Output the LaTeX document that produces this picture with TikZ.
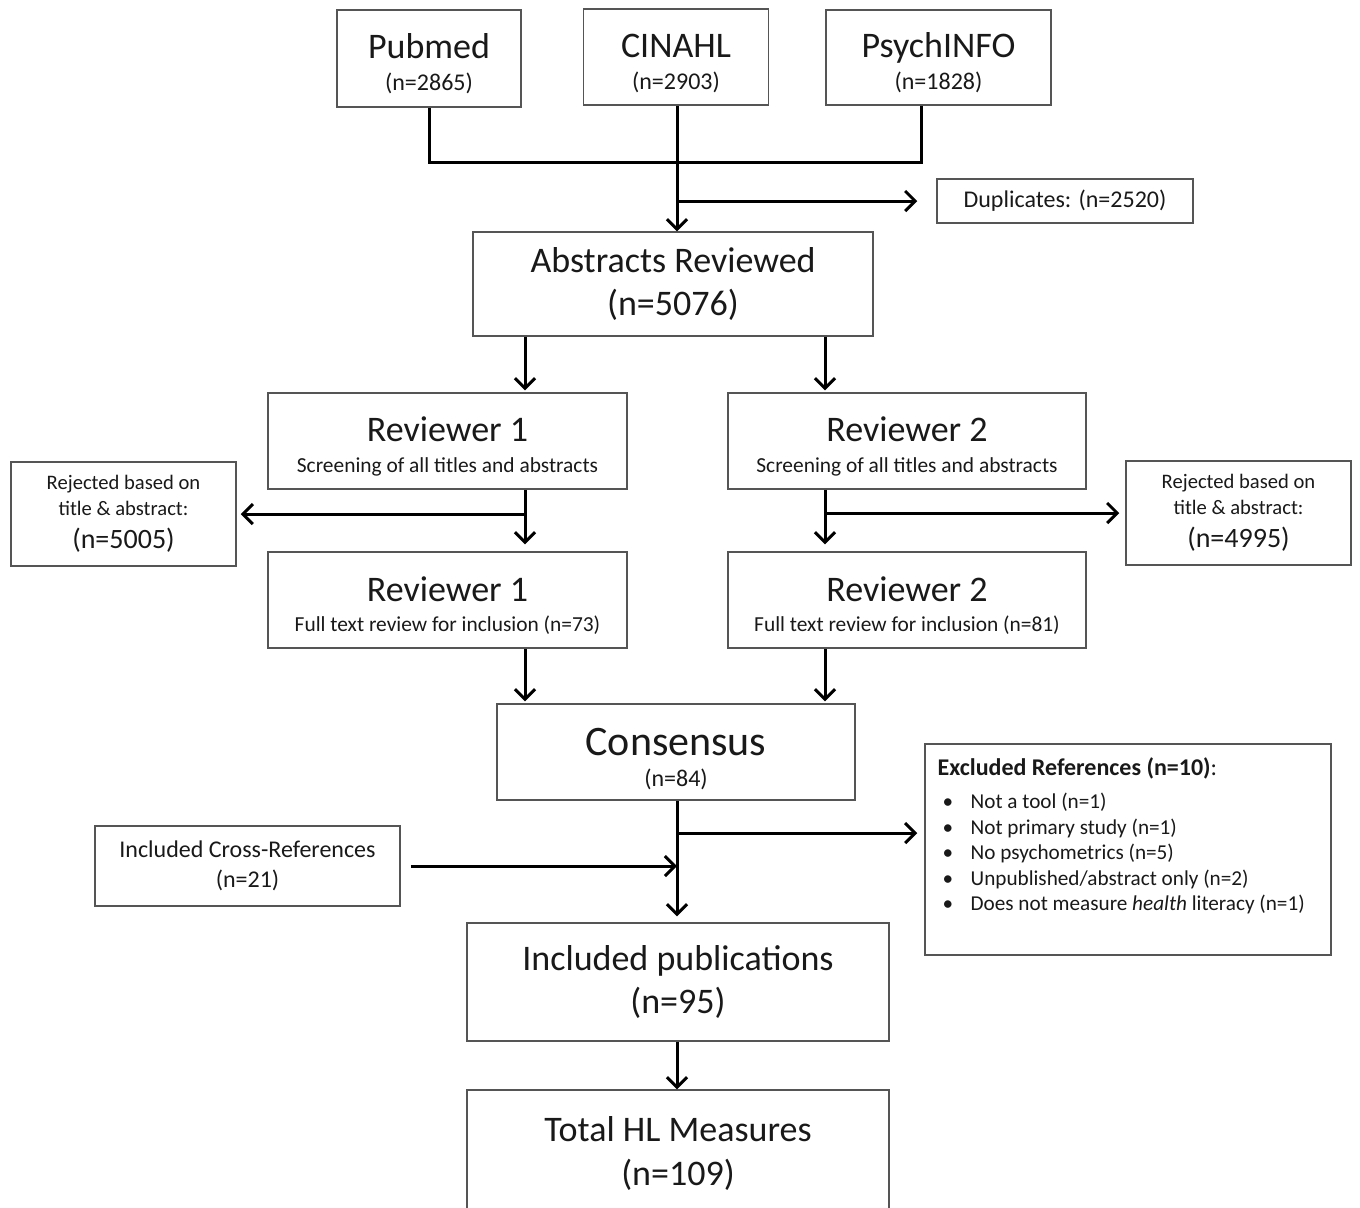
\documentclass[tikz,border=0pt]{standalone}
\usepackage{fontspec}
\setmainfont{Carlito}
\usepackage{xcolor}
\usepackage{tikz}
\usetikzlibrary{positioning, calc, arrows.meta}
\definecolor{pfText}{RGB}{25, 25, 25}
\definecolor{pfLine}{RGB}{85, 85, 85}
\newcommand{\hugefs}{\fontsize{21}{25}\selectfont}
\newcommand{\bigfs}{\fontsize{18}{22}\selectfont}
\newcommand{\midfs}{\fontsize{12}{14.5}\selectfont}
\newcommand{\rejfs}{\fontsize{14}{16}\selectfont}
\newcommand{\smallfs}{\fontsize{10.3}{12.5}\selectfont}
\newcommand{\scrfs}{\fontsize{10.7}{12.5}\selectfont}
\newcommand{\exfs}{\fontsize{10.6}{12.75}\selectfont}
\newcommand{\dropline}[1]{\rule{0pt}{#1}}
\tikzset{
    box/.style={
        rectangle,
        draw=pfLine,
        line width=0.75pt,
        fill=white,
        text=pfText,
        align=center,
        inner sep=0pt
    },
    link/.style={
        line width=1.5pt,
        color=black
    },
    flow/.style={
        link,
        -{Straight Barb[length=5pt, width=10pt]}
    }
}
\begin{document}
\begin{tikzpicture}[x=0.5pt, y=-0.5pt]
  \useasboundingbox (0,0) rectangle (1360,1207);

  % Databases
  \node[box, minimum width=92pt, minimum height=48.5pt] (pub) at (429,58.5) {{\bigfs\dropline{18pt}Pubmed}\\[4pt]{\midfs (n=2865)}};
  \node[box, minimum width=92.5pt, minimum height=48pt] (cin) at (676,57) {{\bigfs\dropline{18pt}CINAHL}\\[4pt]{\midfs (n=2903)}};
  \node[box, minimum width=112.5pt, minimum height=47.5pt] (psy) at (938.5,57.5) {{\bigfs\dropline{18pt}PsychINFO}\\[4pt]{\midfs (n=1828)}};
  \node[box, minimum width=128pt, minimum height=22pt] (dupl) at (1065,201) {\midfs Duplicates: (n=2520)};

  % Screening
  \node[box, minimum width=200pt, minimum height=52pt] (abs) at (673,284) {{\bigfs Abstracts Reviewed}\\[7.5pt]{\bigfs (n=5076)}};
  \node[box, minimum width=179.5pt, minimum height=48pt] (rev1a) at (447.5,441) {{\bigfs\dropline{18pt}Reviewer 1}\\[3.5pt]{\scrfs Screening of all titles and abstracts}};
  \node[box, minimum width=179pt, minimum height=48pt] (rev2a) at (907,441) {{\bigfs\dropline{18pt}Reviewer 2}\\[3.5pt]{\scrfs Screening of all titles and abstracts}};
  \node[box, minimum width=112.5pt, minimum height=52pt] (rej1) at (123.5,514) {{\smallfs Rejected based on}\\[1pt]{\smallfs title \& abstract:}\\[4.5pt]{\rejfs (n=5005)}};
  \node[box, minimum width=112.5pt, minimum height=52pt] (rej2) at (1238.5,513) {{\smallfs Rejected based on}\\[1pt]{\smallfs title \& abstract:}\\[4.5pt]{\rejfs (n=4995)}};
  \node[box, minimum width=179.5pt, minimum height=48pt] (rev1b) at (447.5,600) {{\bigfs\dropline{18pt}Reviewer 1}\\[3pt]{\scrfs Full text review for inclusion (n=73)}};
  \node[box, minimum width=179pt, minimum height=48pt] (rev2b) at (907,600) {{\bigfs\dropline{18pt}Reviewer 2}\\[3pt]{\scrfs Full text review for inclusion (n=81)}};

  % Result
  \node[box, minimum width=179pt, minimum height=48pt] (cons) at (676,752) {{\hugefs\dropline{21pt}Consensus}\\[3.5pt]{\midfs (n=84)}};
  \node[box, minimum width=203pt, minimum height=105.5pt] (excl) at (1128,849.5) {};
  \node[align=left, anchor=north west, inner sep=0pt, text=pfText, font=\exfs] (excltext) at ([xshift=6.5pt, yshift=-7pt]excl.north west)
    {{\fontsize{12}{14}\selectfont\bfseries Excluded References (n=10)}{\fontsize{12}{14}\selectfont:}\\[4pt]
     \hspace*{2.5pt}\makebox[14pt][l]{\textbullet}Not a tool (n=1)\\
     \hspace*{2.5pt}\makebox[14pt][l]{\textbullet}Not primary study (n=1)\\
     \hspace*{2.5pt}\makebox[14pt][l]{\textbullet}No psychometrics (n=5)\\
     \hspace*{2.5pt}\makebox[14pt][l]{\textbullet}Unpublished/abstract only (n=2)\\
     \hspace*{2.5pt}\makebox[14pt][l]{\textbullet}Does not measure \textit{health} literacy (n=1)};
  \node[box, minimum width=152.5pt, minimum height=40pt] (xref) at (247.5,866) {{\midfs Included Cross-References}\\[3pt]{\midfs (n=21)}};
  \node[box, minimum width=211pt, minimum height=59pt] (incl) at (678,982) {{\bigfs Included publications}\\[4.5pt]{\bigfs (n=95)}};
  \node[box, minimum width=211pt, minimum height=60pt] (total) at (678,1150) {{\bigfs\dropline{16pt}Total HL Measures}\\[8pt]{\bigfs (n=109)}};

  % Columns and split points
  \coordinate (colL) at (525,0);
  \coordinate (colR) at (825,0);
  \coordinate (colM) at (677,0);
  \coordinate (psyx) at (921,0);
  \coordinate (mrg) at (677,162);
  \coordinate (exsplit) at (677,833);

  % Connectors
  \draw[link] (pub.south) |- (mrg) -| (psy.south -| psyx);
  \draw[flow] (cin.south -| colM) -- (abs.north -| colM);
  \draw[flow, shorten >=9.5pt] (dupl.west -| colM) -- (dupl.west);
  \draw[flow, shorten >=1pt] (abs.south -| colL) -- (rev1a.north -| colL);
  \draw[flow, shorten >=1pt] (abs.south -| colR) -- (rev2a.north -| colR);
  \draw[flow, shorten >=3.5pt] (rev1a.south -| colL) -- (rev1b.north -| colL);
  \draw[flow, shorten >=3.5pt] (rev2a.south -| colR) -- (rev2b.north -| colR);
  \draw[flow, shorten >=2pt] (rej1.east -| colL) -- (rej1.east);
  \draw[flow, shorten >=3pt] (rej2.west -| colR) -- (rej2.west);
  \draw[flow, shorten >=1pt] (rev1b.south -| colL) -- (cons.north -| colL);
  \draw[flow, shorten >=1pt] (rev2b.south -| colR) -- (cons.north -| colR);
  \draw[flow, shorten >=3pt] (cons.south -| colM) -- (incl.north -| colM);
  \draw[flow, shorten >=3.5pt] (exsplit) -- (exsplit -| excl.west);
  \draw[flow, shorten <=5pt] (xref.east) -- (xref.east -| colM);
  \draw[flow] (incl.south -| colM) -- (total.north -| colM);
\end{tikzpicture}
\end{document}
